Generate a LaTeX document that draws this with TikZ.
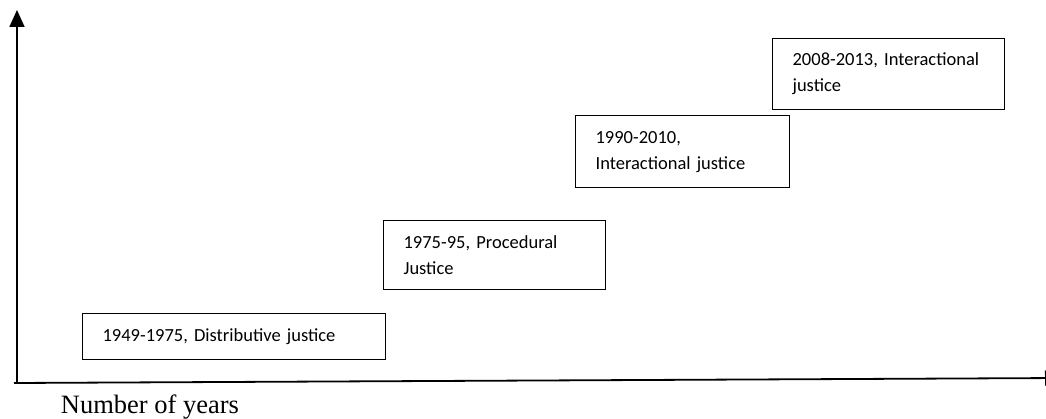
\documentclass[tikz,border=0pt]{standalone}
\usepackage{fontspec}
\setmainfont{Liberation Serif}
\newfontfamily\boxfont{Carlito}
\usetikzlibrary{arrows.meta}

\tikzstyle{periodbox}=[draw,line width=1.2pt,rectangle,anchor=north west,align=left,inner xsep=20pt,inner ysep=0pt,font=\boxfont\fontsize{18.5}{26}\selectfont]
\tikzstyle{axisarrow}=[-{Triangle[length=17pt,width=15pt]},line width=1.8pt]

\begin{document}
\begin{tikzpicture}[x=1pt,y=-1pt]
      \useasboundingbox (0,0) rectangle (1046,419);
      %% axes
      \coordinate (origin) at (17,383);
      \coordinate (xstart) at (14,383);
      \coordinate (ytop) at (17,10);
      \coordinate (xend) at (1062,378);
      \draw[axisarrow] (origin) -- (ytop);
      \draw[axisarrow] (xstart) -- (xend);
      \node (xlabel) at (150,407) [font=\fontsize{26.5}{28}\selectfont] {Number of years};
      %% period boxes
      \foreach \nodename/\x/\y/\w/\h/\txt in {
        distributive/82/313/303/46/{1949-1975, Distributive justice},
        procedural/383/220/222/69/{1975-95, Procedural\\Justice},
        interactionalA/575/115/214/72/{1990-2010,\\Interactional justice},
        interactionalB/772/38/232/71/{2008-2013, Interactional\\justice}}
      {
        \node (\nodename) at (\x,\y) [periodbox,minimum width=\w pt,minimum height=\h pt,text width=\w pt-40pt] {\txt};
      }
    \end{tikzpicture}
\end{document}
